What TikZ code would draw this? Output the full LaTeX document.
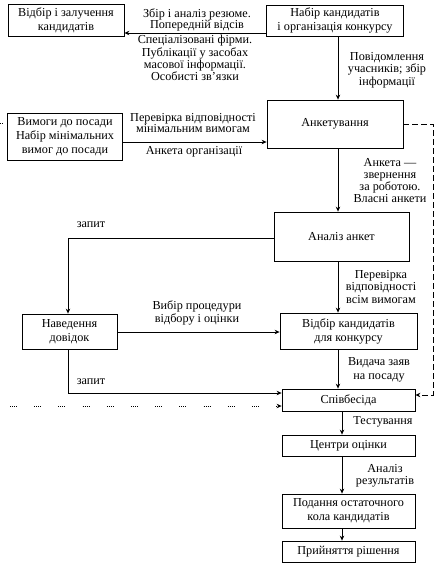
\documentclass[tikz,border=0pt]{standalone}
\usepackage{fontspec}
\setmainfont{Liberation Serif}
\usetikzlibrary{arrows.meta}
\begin{document}
\begin{tikzpicture}[x=1pt,y=-1pt,
  box/.style={draw,line width=0.8pt,inner sep=0pt,align=center,font=\fontsize{12.2}{14}\selectfont},
  lbl/.style={align=center,inner sep=0pt,font=\fontsize{12.2}{12.3}\selectfont},
  arr/.style={line width=0.8pt,-{Stealth[length=5pt,width=4.5pt]}},
  dasharr/.style={arr,dash pattern=on 6pt off 3pt},
  dotarr/.style={arr,dash pattern=on 1pt off 1pt on 1pt off 1pt on 1pt off 1pt on 1pt off 17.2pt}]
\useasboundingbox (0,0) rectangle (437,573);
% boxes
\node[box,minimum width=116pt,minimum height=32pt] (b1) at (66,20) {Відбір і залучення\\кандидатів};
\node[box,minimum width=137pt,minimum height=31pt] (b2) at (335,20.5) {Набір кандидатів\\і організація конкурсу};
\node[box,minimum width=136pt,minimum height=48pt] (b3) at (335,124) {Анкетування};
\node[box,minimum width=115pt,minimum height=47pt] (b4) at (65,136.5) {Вимоги до посади\\Набір мінімальних\\вимог до посади};
\node[box,minimum width=135pt,minimum height=49pt] (b5) at (341.5,236.5) {Аналіз анкет};
\node[box,minimum width=95pt,minimum height=35pt] (b6) at (69.5,331.5) {Наведення\\довідок};
\node[box,minimum width=137pt,minimum height=36pt] (b7) at (348.5,331) {Відбір кандидатів\\для конкурсу};
\node[box,minimum width=133pt,minimum height=22pt] (b8) at (348.5,400) {Співбесіда};
\node[box,minimum width=133pt,minimum height=21pt] (b9) at (348.5,445.5) {Центри оцінки};
\node[box,minimum width=133pt,minimum height=34pt] (b10) at (348.5,511) {Подання остаточного\\кола кандидатів};
\node[box,minimum width=133pt,minimum height=21pt] (b11) at (348.5,551.5) {Прийняття рішення};
% helper coordinates
\coordinate (xa) at (338,0);
\coordinate (xb) at (342,0);
\coordinate (xc) at (68,0);
\coordinate (xd) at (433,0);
\coordinate (ya) at (0,33);
\coordinate (yb) at (0,142);
\coordinate (yc) at (0,238);
\coordinate (yd) at (0,332);
\coordinate (ye) at (0,393);
\coordinate (yf) at (0,124);
\coordinate (yg) at (0,395);
\coordinate (dots0) at (10,406);
% vertical arrows
\draw[arr] (b2.south -| xa) -- (b3.north -| xa);
\draw[arr] (b3.south -| xa) -- (b5.north -| xa);
\draw[arr] (b5.south -| xa) -- (b7.north -| xa);
\draw[arr] (b7.south -| xa) -- (b8.north -| xa);
\draw[arr] (b8.south -| xb) -- (b9.north -| xb);
\draw[arr] (b9.south -| xb) -- (b10.north -| xb);
\draw[arr] (b10.south -| xb) -- (b11.north -| xb);
% horizontal arrows
\draw[arr] (b2.west |- ya) -- (b1.east |- ya);
\draw[arr] (b4.east |- yb) -- (b3.west |- yb);
\draw[arr] (b5.west |- yc) -| (b6.north -| xc);
\draw[arr] (b6.east |- yd) -- (b7.west |- yd);
\draw[arr] (b6.south -| xc) |- (b8.west |- ye);
\draw[dotarr] (dots0) -- (b8.west |- dots0);
\draw[dasharr] (b3.east |- yf) -- (xd |- yf) -- (xd |- yg) -- (b8.east |- yg);
\draw[line width=0.8pt,dash pattern=on 1pt off 1pt] (0,123) -- (3,123);
% labels
\node[lbl,font=\fontsize{12.2}{11}\selectfont] (l1) at (197,20) {Збір і аналіз резюме.\\Попередній відсів};
\node[lbl,font=\fontsize{12.2}{10}\selectfont] (l2) at (195,58) {Спеціалізовані фірми.\\Публікації у засобах\\масової інформації.\\Особисті зв’язки};
\node[lbl] (l3) at (387,70) {Повідомлення\\учасників; збір\\інформації};
\node[lbl,font=\fontsize{12.2}{10.5}\selectfont] (l4) at (193,123) {Перевірка відповідності\\мінімальним вимогам};
\node[lbl] (l5) at (194,152) {Анкета організації};
\node[lbl] (l6) at (390,180.5) {Анкета —\\звернення\\за роботою.\\Власні анкети};
\node[lbl] (l7) at (91,225) {запит};
\node[lbl] (l8) at (197,313) {Вибір процедури\\відбору і оцінки};
\node[lbl] (l9) at (381,287) {Перевірка\\відповідності\\всім вимогам};
\node[lbl,font=\fontsize{12.2}{14}\selectfont] (l10) at (379,370) {Видача заяв\\на посаду};
\node[lbl] (l11) at (91,382) {запит};
\node[lbl] (l12) at (383,422) {Тестування};
\node[lbl] (l13) at (385,476) {Аналіз\\результатів};
\end{tikzpicture}
\end{document}
